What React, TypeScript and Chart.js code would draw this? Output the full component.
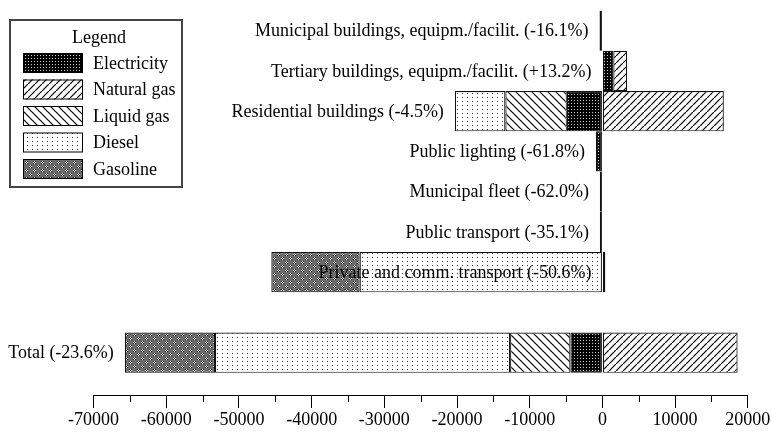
import React, { useEffect, useRef } from 'react';
import { Chart, registerables } from 'chart.js';

Chart.register(...registerables);

// ---------- data ----------
const categories: string[] = [
  'Municipal buildings, equipm./facilit. (-16.1%)',
  'Tertiary buildings, equipm./facilit. (+13.2%)',
  'Residential buildings (-4.5%)',
  'Public lighting (-61.8%)',
  'Municipal fleet (-62.0%)',
  'Public transport (-35.1%)',
  'Private and comm. transport (-50.6%)',
  '',
  'Total (-23.6%)',
];
const seriesNames: string[] = ['Electricity', 'Natural gas', 'Liquid gas', 'Diesel', 'Gasoline'];
const electricity: (number | null)[] = [-400, 1500, -4900, -900, null, null, null, null, -4400];
const naturalGas: (number | null)[] = [null, 1900, 16700, null, null, null, null, null, 18600];
const liquidGas: (number | null)[] = [null, null, -8450, null, null, null, 400, null, -8300];
const diesel: (number | null)[] = [null, null, -6950, null, -350, -350, -33400, null, -40600];
const gasoline: (number | null)[] = [null, null, null, null, null, null, -12150, null, -12400];
const xMin = -70000;
const xMax = 20000;
const xStep = 10000;
const legendTitle = 'Legend';

const allSeries = [electricity, naturalGas, liquidGas, diesel, gasoline];
const FONT = '"Liberation Serif", "Times New Roman", serif';

function makePattern(w: number, h: number, draw: (g: CanvasRenderingContext2D) => void) {
  const c = document.createElement('canvas');
  c.width = w;
  c.height = h;
  const g = c.getContext('2d')!;
  draw(g);
  return g.createPattern(c, 'repeat')!;
}

function buildPatterns() {
  const elec = makePattern(3, 3, (g) => {
    g.fillStyle = '#000';
    g.fillRect(0, 0, 3, 3);
    g.fillStyle = '#c8c8c8';
    g.fillRect(1, 1, 1, 1);
  });
  const ng = makePattern(7, 7, (g) => {
    g.fillStyle = '#fff';
    g.fillRect(0, 0, 7, 7);
    g.strokeStyle = '#000';
    g.lineWidth = 1.2;
    g.beginPath();
    g.moveTo(-1, 8); g.lineTo(8, -1);
    g.moveTo(-2, 1); g.lineTo(1, -2);
    g.moveTo(6, 9); g.lineTo(9, 6);
    g.stroke();
  });
  const lg = makePattern(8, 8, (g) => {
    g.fillStyle = '#fff';
    g.fillRect(0, 0, 8, 8);
    g.strokeStyle = '#000';
    g.lineWidth = 1.2;
    g.beginPath();
    g.moveTo(-1, -1); g.lineTo(9, 9);
    g.moveTo(-2, 6); g.lineTo(2, 10);
    g.moveTo(6, -2); g.lineTo(10, 2);
    g.stroke();
  });
  const ds = makePattern(5, 4, (g) => {
    g.fillStyle = '#fff';
    g.fillRect(0, 0, 5, 4);
    g.fillStyle = '#333';
    g.fillRect(2, 1, 1, 1);
  });
  const gs = makePattern(8, 8, (g) => {
    g.fillStyle = '#6c6c6c';
    g.fillRect(0, 0, 8, 8);
    const cluster = (cx: number, cy: number) => {
      g.fillStyle = '#fff';
      g.fillRect(cx, cy - 1, 1, 1);
      g.fillRect(cx - 1, cy, 1, 1);
      g.fillRect(cx + 1, cy, 1, 1);
      g.fillRect(cx, cy + 1, 1, 1);
      g.fillStyle = '#111';
      g.fillRect(cx, cy, 1, 1);
      g.fillRect(cx - 1, cy - 1, 1, 1);
      g.fillRect(cx + 1, cy + 1, 1, 1);
      g.fillRect(cx + 1, cy - 1, 1, 1);
      g.fillRect(cx - 1, cy + 1, 1, 1);
    };
    cluster(2, 2);
    cluster(6, 6);
  });
  return [elec, ng, lg, ds, gs];
}

const catLabelPlugin = {
  id: 'catLabels',
  afterDatasetsDraw(chart: any) {
    const { ctx } = chart;
    const xs = chart.scales.x;
    const ys = chart.scales.y;
    const gap = 11;
    ctx.save();
    ctx.font = `18px ${FONT}`;
    ctx.fillStyle = '#000';
    ctx.textAlign = 'right';
    ctx.textBaseline = 'middle';
    categories.forEach((label, i) => {
      if (!label) return;
      let neg = 0;
      allSeries.forEach((s) => {
        const v = s[i];
        if (v != null && v < 0) neg += v;
      });
      const zeroPx = xs.getPixelForValue(0);
      const negPx = xs.getPixelForValue(neg);
      const w = ctx.measureText(label).width;
      const summary = i === categories.length - 1;
      const fitsInside = zeroPx - negPx > w + 2 * gap;
      const right = !summary && fitsInside ? zeroPx - gap : negPx - gap;
      ctx.fillText(label, right, ys.getPixelForValue(i) + 1);
    });
    ctx.restore();
  },
};

const minorTickPlugin = {
  id: 'minorTicks',
  afterDraw(chart: any) {
    const { ctx, chartArea } = chart;
    const xs = chart.scales.x;
    ctx.save();
    ctx.strokeStyle = '#000';
    ctx.lineWidth = 1;
    for (let v = xMin + xStep / 2; v < xMax; v += xStep) {
      const px = Math.round(xs.getPixelForValue(v)) + 0.5;
      ctx.beginPath();
      ctx.moveTo(px, chartArea.bottom);
      ctx.lineTo(px, chartArea.bottom + 7);
      ctx.stroke();
    }
    ctx.restore();
  },
};

const boxLegendPlugin = {
  id: 'boxLegend',
  afterDraw(chart: any) {
    const { ctx } = chart;
    const bx = 10, by = 20, bw = 172, bh = 167;
    ctx.save();
    ctx.strokeStyle = '#444';
    ctx.lineWidth = 2;
    ctx.strokeRect(bx, by, bw, bh);
    ctx.font = `18px ${FONT}`;
    ctx.fillStyle = '#000';
    ctx.textBaseline = 'middle';
    ctx.textAlign = 'center';
    ctx.fillText(legendTitle, 99, 38);
    ctx.textAlign = 'left';
    chart.data.datasets.forEach((ds: any, i: number) => {
      const cy = 63 + i * 26.5;
      ctx.fillStyle = ds.backgroundColor;
      ctx.fillRect(23, cy - 10, 60, 20);
      ctx.strokeStyle = '#000';
      ctx.lineWidth = 1;
      ctx.strokeRect(23.5, cy - 9.5, 59, 19);
      ctx.fillStyle = '#000';
      ctx.fillText(ds.label, 93, cy + 1);
    });
    ctx.restore();
  },
};

export default function App() {
  const ref = useRef<HTMLCanvasElement | null>(null);

  useEffect(() => {
    if (!ref.current) return;
    const patterns = buildPatterns();
    const datasets = allSeries.map((s, k) => ({
      label: seriesNames[k],
      data: s
        .map((v, i) => (v == null ? null : { x: v, y: i }))
        .filter((p) => p !== null),
      backgroundColor: patterns[k],
      borderColor: '#111',
      borderWidth: 1.2,
      borderSkipped: false,
      inflateAmount: 0,
      stack: 'all',
      barPercentage: 1,
      categoryPercentage: 1,
    }));
    const chart = new Chart(ref.current, {
      type: 'bar',
      data: { datasets: datasets as any },
      options: {
        indexAxis: 'y',
        responsive: true,
        maintainAspectRatio: false,
        animation: false,
        layout: { padding: { left: 93.6, right: 22, top: 10.6, bottom: 0 } },
        plugins: {
          legend: { display: false },
          tooltip: { enabled: false },
        },
        scales: {
          x: {
            type: 'linear',
            min: xMin,
            max: xMax,
            stacked: true,
            ticks: {
              stepSize: xStep,
              color: '#000',
              font: { family: FONT, size: 18 },
              padding: 1.7,
              maxRotation: 0,
              autoSkip: false,
              callback: (v: any) => String(v),
            },
            grid: {
              drawOnChartArea: false,
              drawTicks: true,
              tickLength: 13,
              tickColor: '#000',
              tickWidth: 1,
            },
            border: { display: true, color: '#000', width: 1 },
          },
          y: {
            type: 'linear',
            reverse: true,
            offset: false,
            min: -0.5,
            max: 9.05,
            display: false,
            grid: { offset: false },
            afterBuildTicks: (scale: any) => {
              scale.ticks = categories.map((_, i) => ({ value: i }));
            },
          },
        },
      },
      plugins: [catLabelPlugin, minorTickPlugin, boxLegendPlugin],
    });
    return () => chart.destroy();
  }, []);

  return (
    <div style={{ position: 'fixed', left: 0, top: 0, width: '772px', height: '433px', background: '#fff' }}>
      <canvas ref={ref} />
    </div>
  );
}
